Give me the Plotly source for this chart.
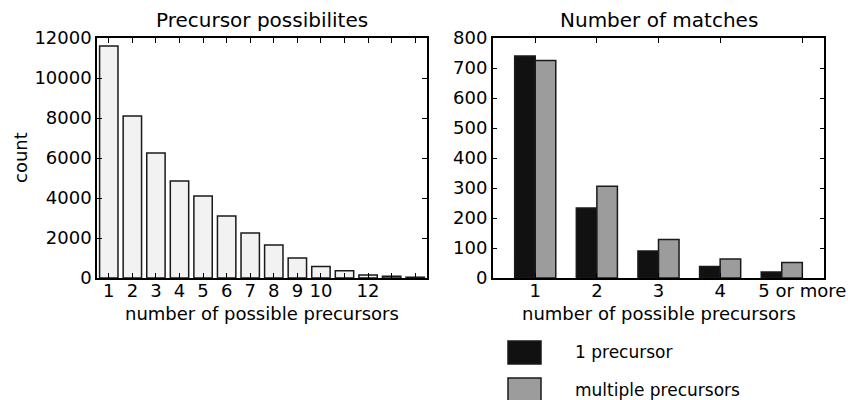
import plotly.graph_objects as go

# ---- data ----
left_x = [1, 2, 3, 4, 5, 6, 7, 8, 9, 10, 11, 12, 13, 14]
left_counts = [11600, 8100, 6250, 4850, 4100, 3100, 2250, 1650, 1000, 580, 360, 150, 90, 40]
left_ticktext = ["1", "2", "3", "4", "5", "6", "7", "8", "9", "10", "", "12", "", ""]
left_yticks = [0, 2000, 4000, 6000, 8000, 10000, 12000]

right_cats = ["1", "2", "3", "4", "5 or more"]
right_x = [1, 2, 3, 4, 5]
one_precursor = [740, 233, 90, 38, 20]
multiple_precursors = [725, 306, 128, 63, 52]
right_tickvals = [1, 2, 3, 4, 5.333]
right_yticks = [0, 100, 200, 300, 400, 500, 600, 700, 800]

W, H = 848, 400
FONT = "DejaVu Sans"
FS = 18
FT = 20

def px(x):
    return x / W

def py(y):
    return 1 - y / H

fig = go.Figure()

fig.add_trace(go.Bar(
    x=left_x, y=left_counts, width=0.78,
    marker=dict(color="#f2f2f2", line=dict(color="#1a1a1a", width=1.5)),
    xaxis="x", yaxis="y", showlegend=False, name="count"))

fig.add_trace(go.Bar(
    x=right_x, y=one_precursor, name="1 precursor",
    marker=dict(color="#111111", line=dict(color="#1a1a1a", width=1.5)),
    xaxis="x2", yaxis="y2", showlegend=False))
fig.add_trace(go.Bar(
    x=right_x, y=multiple_precursors, name="multiple precursors",
    marker=dict(color="#9c9c9c", line=dict(color="#1a1a1a", width=1.5)),
    xaxis="x2", yaxis="y2", showlegend=False))

axis_common = dict(
    showline=True, linecolor="black", linewidth=1.5, mirror="ticks",
    ticks="inside", ticklen=5, tickwidth=1, tickcolor="black",
    showgrid=False, zeroline=False, automargin=False,
    tickfont=dict(family=FONT, size=FS, color="black"),
)

fig.update_layout(
    width=W, height=H,
    margin=dict(l=0, r=0, t=0, b=0),
    paper_bgcolor="white", plot_bgcolor="white",
    barmode="group", bargap=1/3, bargroupgap=0,
    font=dict(family=FONT, size=FS, color="black"),
    xaxis=dict(domain=[px(97), px(427)], range=[0.5, 14.5],
               tickmode="array", tickvals=left_x, ticktext=left_ticktext,
               ticklabelstandoff=-4, anchor="y", **axis_common),
    yaxis=dict(domain=[py(278), py(38)], range=[0, 12000],
               tickmode="array", tickvals=left_yticks, ticktext=[str(v) for v in left_yticks],
               anchor="x", **axis_common),
    xaxis2=dict(domain=[px(492.7), px(824.3)], range=[0.31, 5.69],
                tickmode="array", tickvals=right_tickvals, ticktext=right_cats,
                ticklabelstandoff=-4, anchor="y2", **axis_common),
    yaxis2=dict(domain=[py(278), py(38)], range=[0, 800],
                tickmode="array", tickvals=right_yticks, ticktext=[str(v) for v in right_yticks],
                anchor="x2", **axis_common),
)

def note(text, x, y, size=FS, angle=0, xanchor="center"):
    fig.add_annotation(text=text, x=px(x), y=py(y), xref="paper", yref="paper",
                       showarrow=False, font=dict(family=FONT, size=size, color="black"),
                       xanchor=xanchor, yanchor="middle", textangle=angle)

# titles and axis titles
note("Precursor possibilites", 262, 20, FT)
note("Number of matches", 658.5, 20, FT)
note("number of possible precursors", 262, 313)
note("number of possible precursors", 658.5, 313)
note("count", 20, 158, angle=-90)

# legend (drawn manually)
legend_items = [("1 precursor", "#111111", 341, 364, 352),
                ("multiple precursors", "#9c9c9c", 378, 401, 390)]
for label, col, y0, y1, yt in legend_items:
    fig.add_shape(type="rect", xref="paper", yref="paper",
                  x0=px(508), x1=px(541), y0=py(y1), y1=py(y0),
                  fillcolor=col, line=dict(color="#1a1a1a", width=1.5))
    note(label, 573, yt, 17, xanchor="left")

fig.write_html("out.html")
